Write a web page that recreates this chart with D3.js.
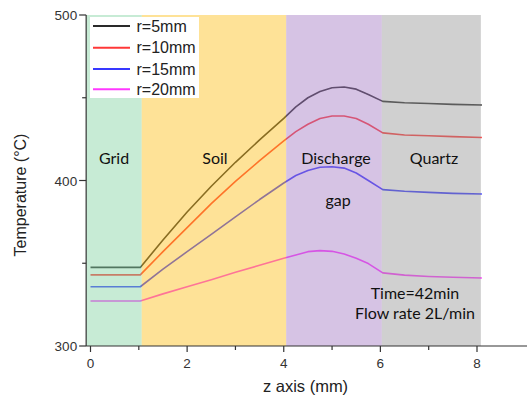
<!DOCTYPE html>
<html><head><meta charset="utf-8">
<script src="https://cdn.jsdelivr.net/npm/d3@7"></script>
<style>html,body{margin:0;padding:0;background:#fff;}svg{display:block;}</style>
</head><body>
<svg id="c" width="527" height="399"></svg>
<script>
const seriesNames = ["r=5mm","r=10mm","r=15mm","r=20mm"];
const seriesColors = ["#2a2a2a","#ff3838","#3838ff","#ff38ff"];
const zValues = [0,1.03,1.5,2,2.5,3,3.5,4,4.25,4.5,4.75,5,5.25,5.5,5.75,6.05,6.5,7,7.5,8.1];
const tR5  = [347.5,347.5,364,381,396.5,411,424.5,437.5,444.5,450,453.8,456,456.5,455.2,452,447.8,447,446.5,446,445.6];
const tR10 = [343,343,357,371.5,386,399.5,412,424,429.5,434,437.5,439,439,437.5,434,428.8,427.5,427,426.5,426];
const tR15 = [335.8,335.8,346.5,357,367.5,378,388.5,398.5,403,406,408,408.3,407.5,404.5,400,394.5,393.5,392.8,392.2,391.8];
const tR20 = [327.2,327.2,331.5,335.8,340,344.5,348.8,353,355,357,357.6,357.2,355.6,353,349.8,344.2,342.8,342,341.5,341.1];
const regionNames = ["Grid","Soil","Discharge","Quartz"];
const regionStart = [-0.09,1.06,4.05,6.03];
const regionEnd = [1.06,4.05,6.03,8.08];
const regionColors = ["#82d3a2","#fdbe18","#a47ac3","#979797"];
const xTicks = [0,2,4,6,8];
const xMinor = [1,3,5,7];
const yTicks = [300,400,500];
const yMinor = [350,450];

const svg = d3.select("#c");
const x = d3.scaleLinear().domain([0,8]).range([90.5,477]);
const y = d3.scaleLinear().domain([300,500]).range([346,15]);
const series = [tR5,tR10,tR15,tR20];

const line = d3.line().x((d,i)=>x(zValues[i])).y(d=>y(d));
svg.append("g").selectAll("path").data(series).join("path")
  .attr("d", d=>line(d)).attr("fill","none")
  .attr("stroke",(d,i)=>seriesColors[i]).attr("stroke-width",1.6)
  .attr("stroke-linejoin","round");

// translucent region overlays
svg.append("g").selectAll("rect").data(regionNames).join("rect")
  .attr("x",(d,i)=>x(regionStart[i])).attr("width",(d,i)=>x(regionEnd[i])-x(regionStart[i]))
  .attr("y",y(500)).attr("height",y(300)-y(500))
  .attr("fill",(d,i)=>regionColors[i]).attr("fill-opacity",0.45);

// region labels
const lab = svg.append("g").attr("font-family","Lato, 'Open Sans', sans-serif").attr("font-size",16).attr("fill","#111").attr("text-anchor","middle");
lab.append("text").attr("x",114).attr("y",164).text("Grid");
lab.append("text").attr("x",215).attr("y",164).text("Soil");
lab.append("text").attr("x",336).attr("y",164).text("Discharge");
lab.append("text").attr("x",338).attr("y",206).text("gap");
lab.append("text").attr("x",434).attr("y",164).text("Quartz");
lab.append("text").attr("x",415).attr("y",299).text("Time=42min");
lab.append("text").attr("x",415).attr("y",319).text("Flow rate 2L/min");

// axes
const ax = svg.append("g").attr("stroke","#333").attr("stroke-width",1.2);
ax.append("line").attr("x1",x(-0.09)).attr("x2",x(-0.09)).attr("y1",y(500)).attr("y2",y(300));
ax.append("line").attr("x1",x(-0.09)).attr("x2",527).attr("y1",y(300)).attr("y2",y(300));
const x0 = x(-0.09);
ax.selectAll(".yt").data(yTicks).join("line").attr("x1",x0-7).attr("x2",x0).attr("y1",d=>y(d)).attr("y2",d=>y(d));
ax.selectAll(".ym").data(yMinor).join("line").attr("x1",x0-4).attr("x2",x0).attr("y1",d=>y(d)).attr("y2",d=>y(d));
ax.selectAll(".xt").data(xTicks).join("line").attr("x1",d=>x(d)).attr("x2",d=>x(d)).attr("y1",y(300)).attr("y2",y(300)+6);
ax.selectAll(".xm").data(xMinor).join("line").attr("x1",d=>x(d)).attr("x2",d=>x(d)).attr("y1",y(300)).attr("y2",y(300)+4);

const tl = svg.append("g").attr("font-family","'Liberation Sans', Arial, sans-serif").attr("font-size",13.5).attr("fill","#333");
tl.selectAll(".yl").data(yTicks).join("text").attr("x",x0-9).attr("y",d=>y(d)+5).attr("text-anchor","end").text(d=>d);
tl.selectAll(".xl").data(xTicks).join("text").attr("x",d=>x(d)).attr("y",368).attr("text-anchor","middle").text(d=>d);

svg.append("text").attr("x",305.5).attr("y",392).attr("text-anchor","middle")
  .attr("font-family","'Liberation Sans', Arial, sans-serif").attr("font-size",16.5).attr("fill","#222").text("z axis (mm)");
svg.append("text").attr("transform","translate(26,195) rotate(-90)").attr("text-anchor","middle")
  .attr("font-family","'Liberation Sans', Arial, sans-serif").attr("font-size",16).attr("fill","#222").text("Temperature (°C)");

// legend
const lg = svg.append("g");
lg.append("rect").attr("x",90).attr("y",17).attr("width",109).attr("height",81).attr("fill","#fff");
const ly = [26,47.7,69,89.3];
seriesNames.forEach((n,i)=>{
  lg.append("line").attr("x1",93).attr("x2",130).attr("y1",ly[i]).attr("y2",ly[i]).attr("stroke",seriesColors[i]).attr("stroke-width",2);
  lg.append("text").attr("x",136.5).attr("y",ly[i]+5.5).attr("font-family","'Liberation Sans', Arial, sans-serif").attr("font-size",16).attr("fill","#222").text(n);
});
</script>
</body></html>
